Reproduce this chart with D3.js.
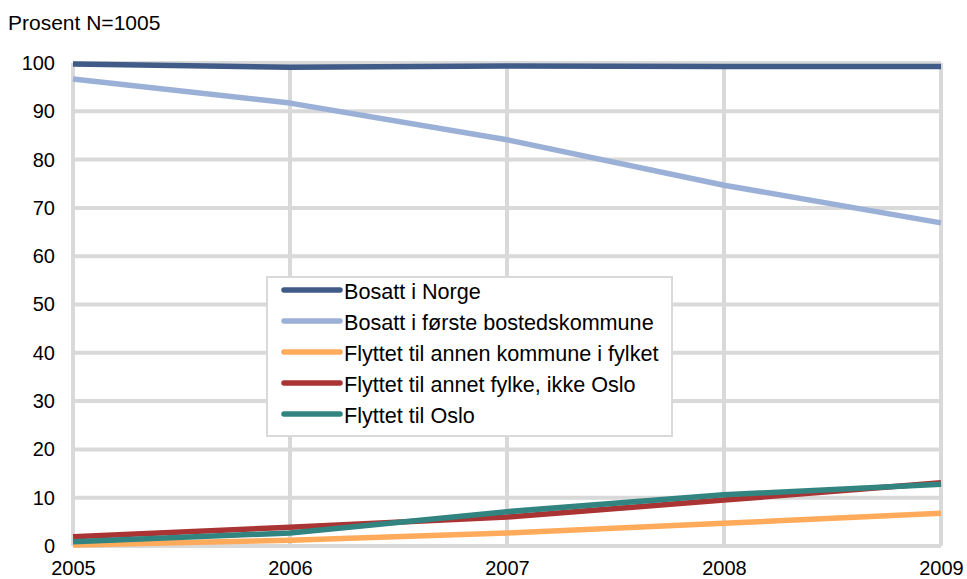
<!DOCTYPE html>
<html><head><meta charset="utf-8">
<script src="https://cdn.jsdelivr.net/npm/d3@7"></script>
<style>body{margin:0;background:#fff}svg{display:block;font-family:"Liberation Sans",Arial,sans-serif}</style>
</head><body><svg id="c" width="967" height="579"></svg>
<script>
const years = [2005, 2006, 2007, 2008, 2009];
const seriesNames = ["Bosatt i Norge","Bosatt i første bostedskommune","Flyttet til annen kommune i fylket","Flyttet til annet fylke, ikke Oslo","Flyttet til Oslo"];
const bosattNorge = [99.8, 99.1, 99.4, 99.3, 99.3];
const bosattForste = [96.7, 91.7, 84.1, 74.7, 66.9];
const annenKommune = [0.2, 1.2, 2.7, 4.7, 6.8];
const annetFylke = [1.9, 3.9, 6.0, 9.5, 13.1];
const oslo = [0.9, 2.7, 7.1, 10.6, 12.8];
const colors = ["#415B89","#9BB0D6","#FFAB5B","#AA3434","#31847F"];
const yTicks = [0,10,20,30,40,50,60,70,80,90,100];

const values = [bosattNorge, bosattForste, annenKommune, annetFylke, oslo];
const svg = d3.select("#c");
const x = d3.scaleLinear().domain([2005,2009]).range([73,941]);
const y = d3.scaleLinear().domain([0,100]).range([546,63]);
const grid = "#d9d9d9";

// grid
svg.append("g").selectAll("line").data(yTicks).join("line")
  .attr("x1",x(2005)).attr("x2",x(2009)).attr("y1",d=>y(d)).attr("y2",d=>y(d))
  .attr("stroke",grid).attr("stroke-width",4);
svg.append("g").selectAll("line").data(years).join("line")
  .attr("x1",d=>x(d)).attr("x2",d=>x(d)).attr("y1",y(0)).attr("y2",y(100))
  .attr("stroke",grid).attr("stroke-width",4);

// axes labels
const yAxis = d3.axisLeft(y).tickValues(yTicks).tickSize(0).tickPadding(18);
const ga = svg.append("g").attr("transform",`translate(${x(2005)},0)`).call(yAxis);
ga.select(".domain").remove();
ga.selectAll("text").attr("font-size",20).attr("fill","#000").attr("font-family","Liberation Sans, Arial, sans-serif");
const xAxis = d3.axisBottom(x).tickValues(years).tickFormat(d3.format("d")).tickSize(0).tickPadding(15);
const gx = svg.append("g").attr("transform",`translate(0,${y(0)})`).call(xAxis);
gx.select(".domain").remove();
gx.selectAll("text").attr("font-size",20).attr("fill","#000").attr("font-family","Liberation Sans, Arial, sans-serif");

svg.append("text").attr("x",8).attr("y",30).attr("font-size",21).text("Prosent N=1005");

// lines
const line = d3.line().x((d,i)=>x(years[i])).y(d=>y(d));
svg.append("g").selectAll("path").data(values).join("path")
  .attr("d",line).attr("fill","none").attr("stroke",(d,i)=>colors[i]).attr("stroke-width",5.5)
  .attr("stroke-linejoin","round");

// legend
const lg = svg.append("g");
lg.append("rect").attr("x",267).attr("y",277).attr("width",405).attr("height",159)
  .attr("fill","#fff").attr("stroke",grid).attr("stroke-width",2);
const rows = lg.selectAll("g").data(seriesNames).join("g")
  .attr("transform",(d,i)=>`translate(0,${290+i*31})`);
rows.append("line").attr("x1",284).attr("x2",340).attr("y1",0).attr("y2",0)
  .attr("stroke",(d,i)=>colors[i]).attr("stroke-width",5.5).attr("stroke-linecap","round");
rows.append("text").attr("x",344).attr("y",1).attr("dy","0.35em").attr("font-size",21.6).text(d=>d);
</script></body></html>
